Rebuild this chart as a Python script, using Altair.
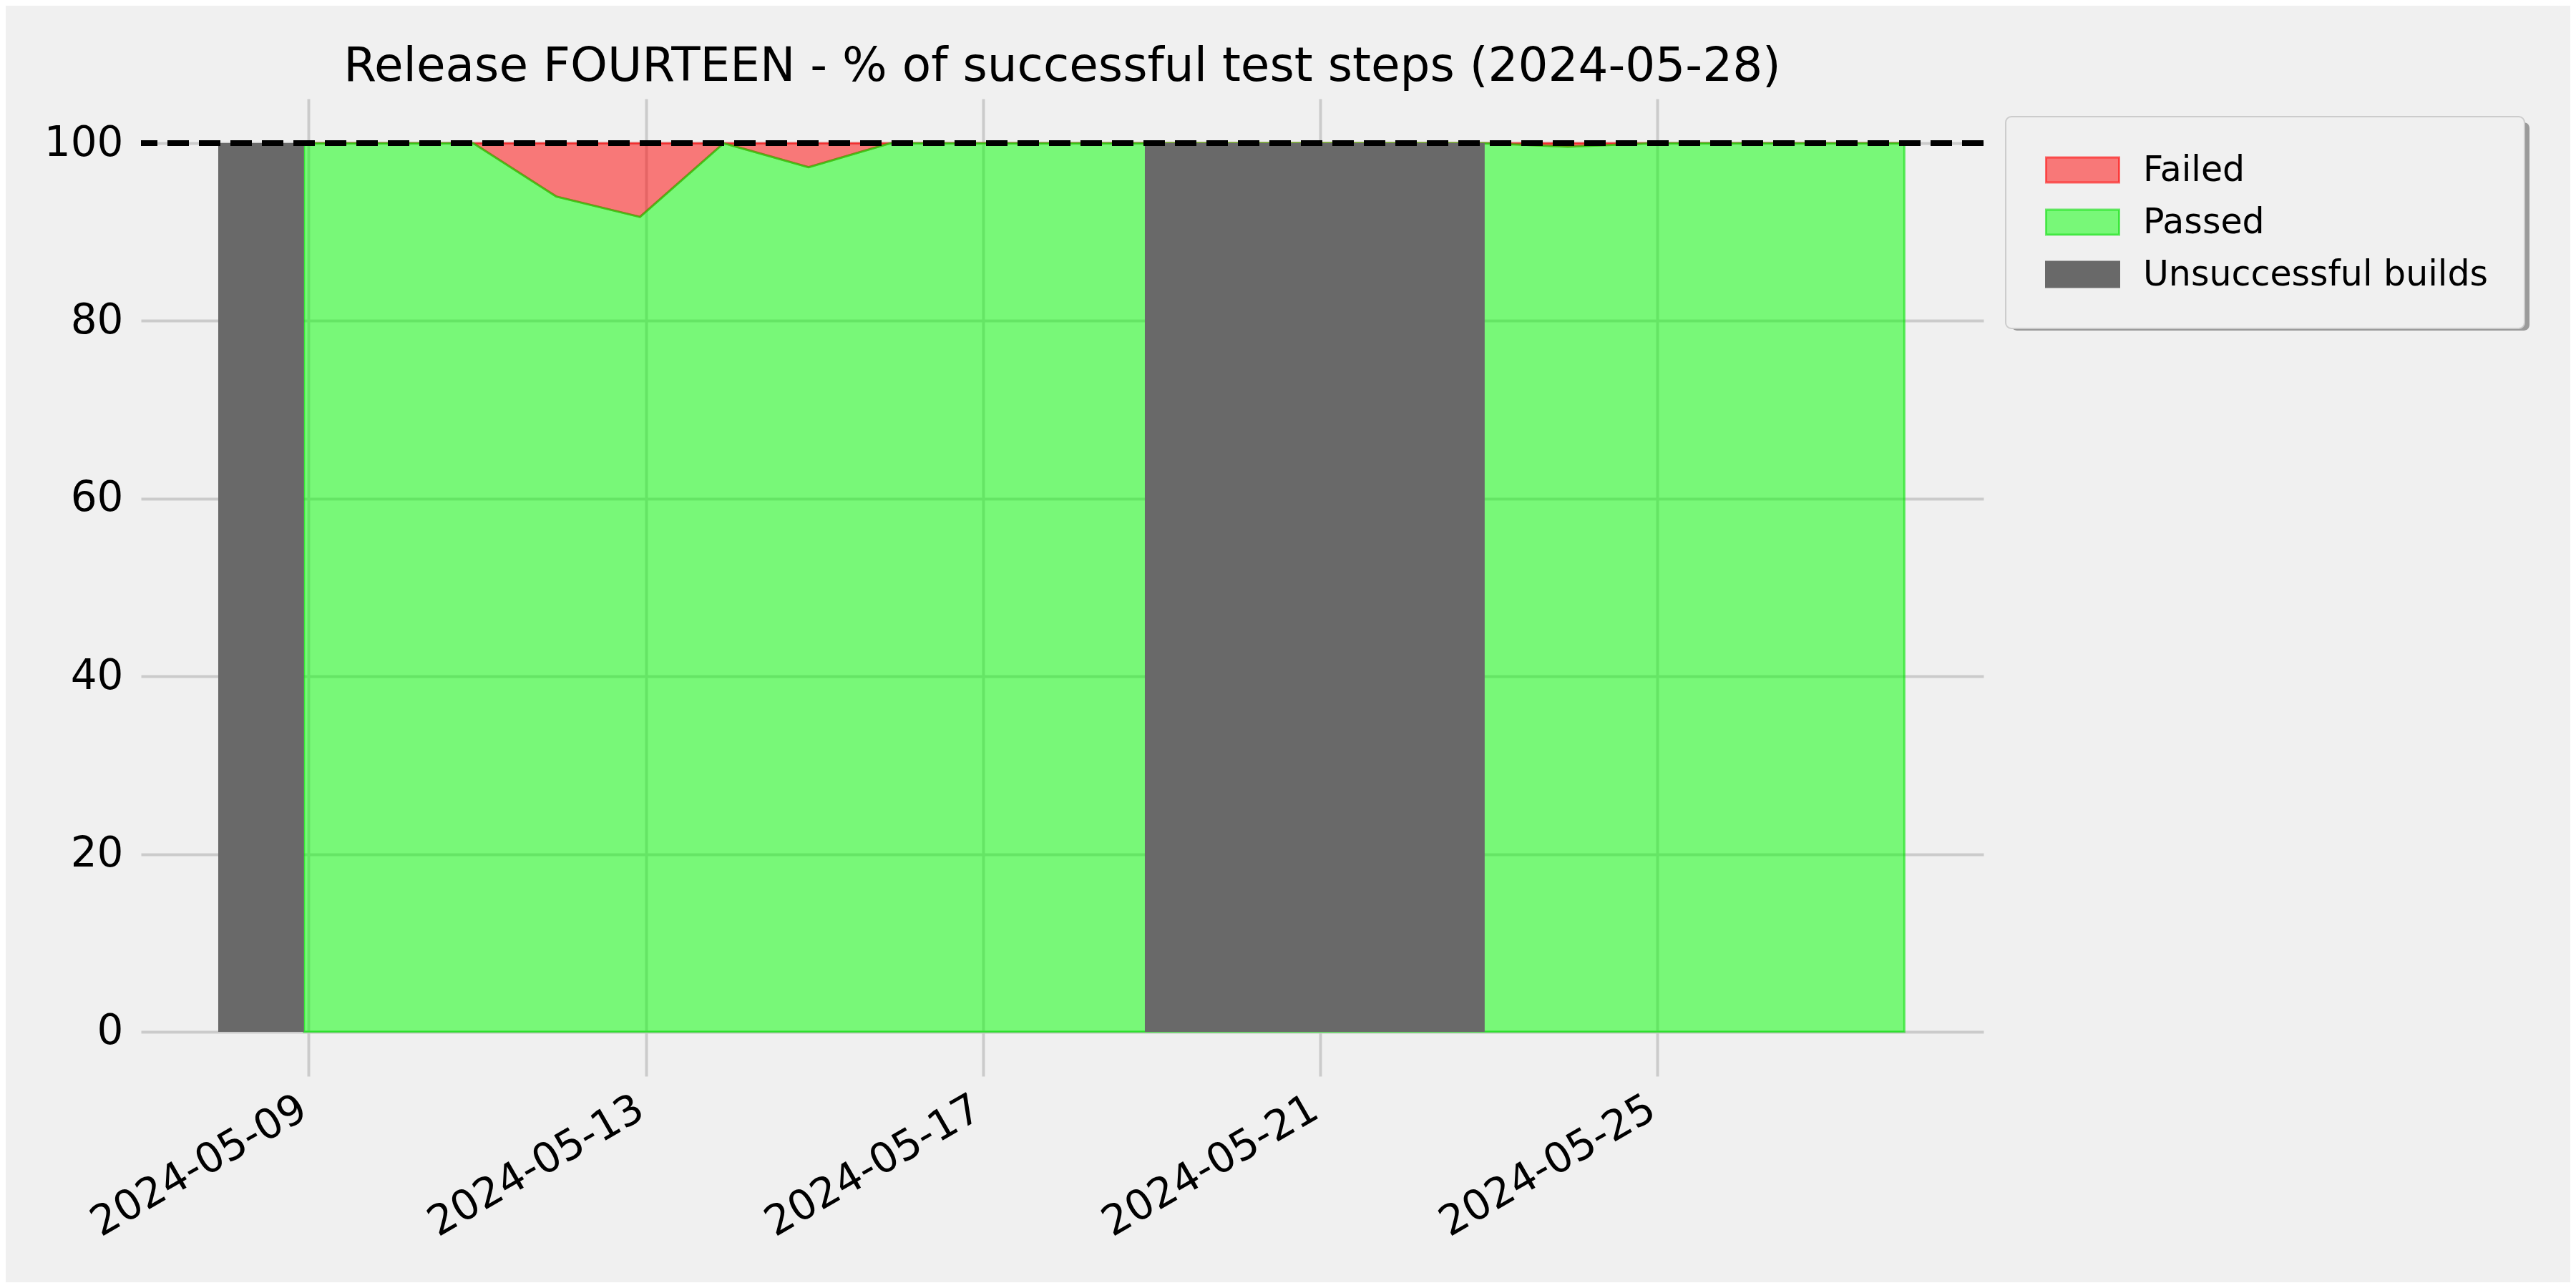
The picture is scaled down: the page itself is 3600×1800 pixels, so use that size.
import altair as alt
import pandas as pd

# ---- data ----
build_dates = [
    "2024-05-08T22:40", "2024-05-09T22:30", "2024-05-10T22:50", "2024-05-11T22:30",
    "2024-05-12T22:20", "2024-05-13T22:10", "2024-05-14T22:20", "2024-05-15T21:40",
    "2024-05-16T22:30", "2024-05-17T22:30", "2024-05-18T22:05", "2024-05-22T22:50",
    "2024-05-23T22:30", "2024-05-24T22:30", "2024-05-25T22:30", "2024-05-26T22:30",
    "2024-05-27T22:20",
]
passed_pct = [100, 100, 100, 94.0, 91.7, 100, 97.3, 100,
              100, 100, 100, 100, 99.6, 100, 100, 100, 100]

unsuccessful_start = ["2024-05-07T22:15", "2024-05-18T22:05"]
unsuccessful_end = ["2024-05-08T22:40", "2024-05-22T22:50"]

series_names = ["Failed", "Passed", "Unsuccessful builds"]
fill_colors = ["rgba(255,0,0,0.5)", "rgba(0,255,0,0.5)", "#696969"]
stroke_colors = ["rgba(255,0,0,0.55)", "rgba(0,220,0,0.55)", "#696969"]

tick_days = [9, 13, 17, 21, 25]
y_ticks = [0, 20, 40, 60, 80, 100]
target_line = 100
title_text = "Release FOURTEEN - % of successful test steps (2024-05-28)"

# ---- tables ----
area_df = pd.DataFrame({"date": build_dates, "passed": passed_pct,
                        "total": [100] * len(build_dates), "zero": [0] * len(build_dates)})
green_df = area_df.assign(series="Passed")
red_df = area_df.assign(series="Failed")
gray_df = pd.DataFrame({"start": unsuccessful_start, "end": unsuccessful_end,
                        "low": [0] * 2, "high": [100] * 2,
                        "series": ["Unsuccessful builds"] * 2})

FONT = "DejaVu Sans"
fill_scale = alt.Scale(domain=series_names, range=fill_colors)
stroke_scale = alt.Scale(domain=series_names, range=stroke_colors)

x_scale = alt.Scale(domain=[alt.DateTime(year=2024, month=5, date=7, hours=0, minutes=15),
                            alt.DateTime(year=2024, month=5, date=28, hours=20, minutes=52)])
y_scale = alt.Scale(domain=[-5, 105], nice=False, zero=False)

x_axis = alt.Axis(values=[alt.DateTime(year=2024, month=5, date=d) for d in tick_days],
                  format="%Y-%m-%d", labelAngle=330, labelAlign="right",
                  labelBaseline="top", labelPadding=16, labelOffset=-22, title=None,
                  labelLimit=0)
y_axis = alt.Axis(values=y_ticks, title=None, labelPadding=25)

legend = alt.Legend(title=None, orient="none", legendX=2606, legendY=25)

# decorative drop shadow of the legend frame (drawn underneath the legend box)
shadow = alt.Chart(pd.DataFrame({"s": [0]})).mark_rect(
    color="#9a9a9a", cornerRadius=8, clip=False).encode(
    x=alt.value(2614), x2=alt.value(3338), y=alt.value(33), y2=alt.value(324))

red = alt.Chart(red_df).mark_area(strokeWidth=3, opacity=1, interpolate="linear").encode(
    x=alt.X("date:T", scale=x_scale, axis=x_axis),
    y=alt.Y("passed:Q", scale=y_scale, axis=y_axis),
    y2="total:Q",
    fill=alt.Fill("series:N", scale=fill_scale, legend=legend),
    stroke=alt.Stroke("series:N", scale=stroke_scale, legend=legend),
)
green = alt.Chart(green_df).mark_area(strokeWidth=3, opacity=1, interpolate="linear").encode(
    x=alt.X("date:T", scale=x_scale, axis=x_axis),
    y=alt.Y("passed:Q", scale=y_scale, axis=y_axis),
    y2="zero:Q",
    fill=alt.Fill("series:N", scale=fill_scale, legend=legend),
    stroke=alt.Stroke("series:N", scale=stroke_scale, legend=legend),
)
gray = alt.Chart(gray_df).mark_rect(strokeWidth=0, opacity=1).encode(
    x=alt.X("start:T", scale=x_scale, axis=x_axis),
    x2="end:T",
    y=alt.Y("low:Q", scale=y_scale, axis=y_axis),
    y2="high:Q",
    fill=alt.Fill("series:N", scale=fill_scale, legend=legend),
    stroke=alt.Stroke("series:N", scale=stroke_scale, legend=legend),
)
rule = alt.Chart(pd.DataFrame({"y": [target_line]})).mark_rule(
    color="black", strokeWidth=8, strokeDash=[30, 14]).encode(
    y=alt.Y("y:Q", scale=y_scale, axis=y_axis))

chart = alt.layer(shadow, red, green, gray, rule).properties(
    width=2575, height=1366,
    autosize=alt.AutoSizeParams(type="none"),
    padding={"left": 189, "top": 130, "right": 820, "bottom": 288},
    background="#f0f0f0",
    title=alt.TitleParams(title_text, fontSize=66, font=FONT, fontWeight="normal",
                          color="black", anchor="middle", offset=11),
).configure_view(stroke=None).configure_axis(
    labelFont=FONT, labelFontSize=58, labelColor="black",
    grid=True, gridColor="#cbcbcb", gridWidth=4,
    domain=False, ticks=False,
).configure_legend(
    labelFont=FONT, labelFontSize=49, labelColor="black", labelLimit=0,
    symbolType="M-3,-1.03H3V1.03H-3Z", symbolSize=1156, symbolStrokeWidth=3,
    symbolOffset=33, symbolOpacity=1, padding=50, rowPadding=23, labelOffset=60,
    fillColor="#f0f0f0", strokeColor="#cccccc", strokeWidth=2, cornerRadius=8,
)

chart.save("out.html", embed_options={"renderer": "svg", "actions": False})
